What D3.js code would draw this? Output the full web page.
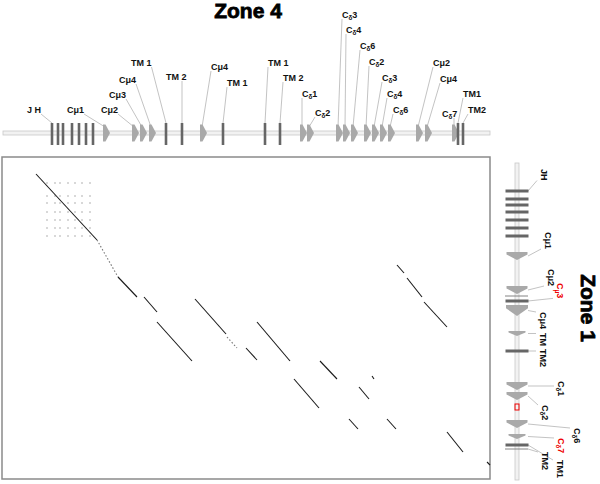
<!DOCTYPE html>
<html>
<head>
<meta charset="utf-8">
<script src="https://cdn.jsdelivr.net/npm/d3@7/dist/d3.min.js"></script>
<style>
  body { margin: 0; background: #fff; }
  text { font-family: "Liberation Sans", Arial, sans-serif; }
</style>
</head>
<body>
<div id="chart"></div>
<script>
// ---- zone 4 (horizontal contig), positions in contig units ----
// [kind, position, label]   label null = not labelled; {x} = subscript
var zone4Features = [
    ['bar', 49, 'J H'], ['bar', 55, null], ['bar', 60, null], ['bar', 69, null],
    ['bar', 76, null], ['bar', 83, null], ['bar', 90, null],
    ['arrow', 100, 'Cμ1'], ['arrow', 129, 'Cμ2'], ['arrow', 137, 'Cμ3'], ['arrow', 146, 'Cμ4'],
    ['bar', 163, 'TM 1'], ['bar', 179, 'TM 2'], ['arrow', 197, 'Cμ4'], ['bar', 220, 'TM 1'],
    ['bar', 262, 'TM 1'], ['bar', 277, 'TM 2'],
    ['arrow', 297, 'C{δ}1'], ['arrow', 304, 'C{δ}2'],
    ['arrow', 333, 'C{δ}3'], ['arrow', 340, 'C{δ}4'], ['arrow', 348, 'C{δ}6'],
    ['arrow', 361, 'C{δ}2'], ['arrow', 369, 'C{δ}3'], ['arrow', 377, 'C{δ}4'], ['arrow', 385, 'C{δ}6'],
    ['arrow', 413, 'Cμ2'], ['arrow', 422, 'Cμ4'], ['arrow', 449, 'C{δ}7'],
    ['bar', 455, 'TM1'], ['bar', 460, 'TM2']
];
// ---- zone 1 (vertical contig) ----
// [kind, position, label, red]
var zone1Features = [
    ['bar', 34, 'JH'], ['bar', 42, null], ['bar', 48, null], ['bar', 55, null],
    ['bar', 63, null], ['bar', 71, null], ['bar', 79, null],
    ['arrow', 95, 'Cμ1'], ['arrow', 129, 'Cμ2'], ['thin', 139, null],
    ['bar', 144, 'C{μ}3', true], ['big', 148, 'Cμ4'], ['small', 174, 'TM'],
    ['bar', 194, 'TM2'], ['arrow', 225, 'C{δ}1'], ['arrow', 235, 'C{δ}2'],
    ['gap', 250, null], ['arrow', 263, 'C{δ}6'], ['small', 277, 'C{δ}7', true],
    ['bar', 288, 'TM1'], ['thin', 292, 'TM2']
];
// matching segments of the dot plot: [zone4 start, zone1 start, zone4 end, zone1 end, faint]
var matches = [
    [33, 17, 94, 83], [94, 83, 115, 120, 1], [115, 120, 134, 140], [141, 140, 154, 155],
    [154, 165, 189, 204], [192, 142, 223, 177], [224, 180, 234, 191, 1], [243, 191, 254, 203],
    [254, 165, 287, 204], [317, 204, 334, 222], [291, 222, 316, 251], [369, 219, 371, 222],
    [356, 230, 366, 242], [346, 262, 355, 272], [384, 262, 393, 272], [444, 275, 460, 295],
    [484, 305, 487, 308], [394, 108, 401, 116], [404, 121, 419, 140], [421, 145, 444, 170]
];
// JH repeat grid seen in the dot plot
var jhGridX = [44, 52, 57, 65, 72, 79, 87];
var jhGridY = [26, 39, 46, 55, 63, 71, 79];

// label placement (layout only): top labels [left x, centre y]
var zone4LabelPos = [
    [27, 109], [67, 109], [101, 109], [109, 94], [119, 79], [131, 62], [166, 76], [211, 66],
    [227, 82], [268, 62], [283, 77], [302, 93], [315, 112], [342, 14], [346, 29], [360, 45],
    [369, 61], [382, 77], [387, 93], [393, 109], [433, 62], [440, 78], [442, 113], [463, 93], [468, 109]
];
// right labels [centre x, top y]
var zone1LabelPos = [
    [541, 169], [545, 232], [548, 269], [557, 283], [540, 312], [540, 333], [540, 349],
    [558, 381], [542, 405], [574, 428], [558, 438], [557, 460], [542, 452]
];

var W = 600, H = 484;
var svg = d3.select('#chart').append('svg').attr('width', W).attr('height', H);

var x = d3.scaleLinear().domain([0, 487]).range([3, 490]);
var y = d3.scaleLinear().domain([0, 323]).range([157, 480]);

var trackY = 133, trackX = 517;
var arrowFill = '#a9a9a9', barFill = '#666', leaderCol = '#b4b4b4';

function richText(sel, s) {
    var parts = s.split(/(\{[^}]*\})/).filter(function (p) { return p; });
    var shift = 0;
    parts.forEach(function (p) {
        var t = sel.append('tspan');
        if (p[0] === '{') {
            t.attr('font-size', '0.7em').attr('dy', 2.5 - shift).text(p.slice(1, -1));
            shift = 2.5;
        } else {
            t.attr('dy', -shift).text(p);
            shift = 0;
        }
    });
}

// ---------------- titles ----------------
svg.append('text').attr('x', 248).attr('y', 18).attr('text-anchor', 'middle')
    .attr('font-size', 21).attr('font-weight', 'bold')
    .attr('stroke', '#000').attr('stroke-width', 0.8).text('Zone 4');
svg.append('text').attr('transform', 'translate(588,308) rotate(90)').attr('text-anchor', 'middle')
    .attr('dy', '0.35em').attr('font-size', 21).attr('font-weight', 'bold')
    .attr('stroke', '#000').attr('stroke-width', 0.8).text('Zone 1');

// ---------------- top track ----------------
var topG = svg.append('g');
var topLead = topG.append('g');
topG.append('rect').attr('x', x(0)).attr('y', trackY - 2).attr('width', x(487) - x(0)).attr('height', 4)
    .attr('fill', '#f2f2f2').attr('stroke', '#c8c8c8').attr('stroke-width', 0.8);

zone4Features.forEach(function (f) {
    var px = x(f[1]);
    if (f[0] === 'bar') {
        topG.append('rect').attr('x', px - 1.3).attr('y', trackY - 10).attr('width', 2.6).attr('height', 22)
            .attr('fill', barFill);
    } else {
        var x1 = x(f[1] + 7);
        topG.append('polygon')
            .attr('points', [[px, trackY - 8.5], [px + 2.5, trackY - 8.5], [x1, trackY],
                [px + 2.5, trackY + 8.5], [px, trackY + 8.5]].join(' '))
            .attr('fill', arrowFill);
    }
});

var li = 0;
zone4Features.forEach(function (f) {
    if (!f[2]) return;
    var pos = zone4LabelPos[li++];
    var t = topG.append('text').attr('x', pos[0]).attr('y', pos[1] + 3.5)
        .attr('font-size', 9).attr('font-weight', 'bold').attr('fill', '#111');
    richText(t, f[2]);
    var bb = t.node().getBBox();
    var tx = f[0] === 'bar' ? x(f[1]) : x(f[1]) + 2;
    var ty = f[0] === 'bar' ? trackY - 10 : trackY - 6;
    var sx = Math.max(bb.x, Math.min(bb.x + bb.width, tx));
    topLead.append('line').attr('x1', sx).attr('y1', pos[1] + 5).attr('x2', tx).attr('y2', ty)
        .attr('stroke', leaderCol).attr('stroke-width', 0.8);
});

// ---------------- right track ----------------
var side = svg.append('g');
var sideLead = side.append('g');
side.append('rect').attr('x', trackX - 2).attr('y', y(6)).attr('width', 4).attr('height', y(323) - y(6))
    .attr('fill', '#f2f2f2').attr('stroke', '#c8c8c8').attr('stroke-width', 0.8);

var arrowSize = { arrow: [21, 8], big: [22, 11], small: [17, 5] };
zone1Features.forEach(function (f) {
    var py = y(f[1]);
    if (f[0] === 'bar') {
        side.append('rect').attr('x', trackX - 11.5).attr('y', py - 1.5).attr('width', 23).attr('height', 3)
            .attr('fill', barFill);
    } else if (f[0] === 'thin') {
        side.append('line').attr('x1', trackX - 12).attr('x2', trackX + 11).attr('y1', py).attr('y2', py)
            .attr('stroke', '#777').attr('stroke-width', 0.9);
    } else if (f[0] === 'gap') {
        side.append('rect').attr('x', trackX - 2).attr('y', py - 3).attr('width', 4).attr('height', 6)
            .attr('fill', 'none').attr('stroke', '#e00').attr('stroke-width', 1);
    } else {
        var s = arrowSize[f[0]], w = s[0] / 2, h = s[1];
        side.append('polygon')
            .attr('points', [[trackX - w, py], [trackX + w, py], [trackX + w, py + h * 0.3],
                [trackX, py + h], [trackX - w, py + h * 0.3]].join(' '))
            .attr('fill', arrowFill);
    }
});

li = 0;
zone1Features.forEach(function (f) {
    if (!f[2]) return;
    var pos = zone1LabelPos[li++];
    var t = side.append('text').attr('transform', 'translate(' + pos[0] + ',' + pos[1] + ') rotate(90)')
        .attr('dy', '0.35em').attr('font-size', 9).attr('font-weight', 'bold')
        .attr('fill', f[3] ? '#e00' : '#111');
    richText(t, f[2]);
    var len = t.node().getBBox().width;
    var sz = arrowSize[f[0]];
    var ty = sz ? y(f[1]) + sz[1] / 2 : y(f[1]);
    var ey = Math.max(pos[1], Math.min(pos[1] + len, ty));
    sideLead.append('line').attr('x1', trackX + 11).attr('y1', ty).attr('x2', pos[0] - 4).attr('y2', ey)
        .attr('stroke', leaderCol).attr('stroke-width', 0.8);
});

// ---------------- dot plot ----------------
var plot = svg.append('g');
plot.append('rect').attr('x', 2).attr('y', 157).attr('width', 488).attr('height', 322)
    .attr('fill', '#fff').attr('stroke', '#8a8a8a').attr('stroke-width', 1.5);

jhGridX.forEach(function (gx) {
    jhGridY.forEach(function (gy) {
        plot.append('rect').attr('x', x(gx) - 0.7).attr('y', y(gy) - 0.7).attr('width', 1.4).attr('height', 1.4)
            .attr('fill', '#b0b0b0');
    });
});

plot.selectAll('.match').data(matches).enter().append('line')
    .attr('class', 'match')
    .attr('x1', function (d) { return x(d[0]); })
    .attr('y1', function (d) { return y(d[1]); })
    .attr('x2', function (d) { return x(d[2]); })
    .attr('y2', function (d) { return y(d[3]); })
    .attr('stroke', function (d) { return d[4] ? '#777' : '#1a1a1a'; })
    .attr('stroke-dasharray', function (d) { return d[4] ? '1.5,2' : null; })
    .attr('stroke-width', 1.1);
</script>
</body>
</html>
